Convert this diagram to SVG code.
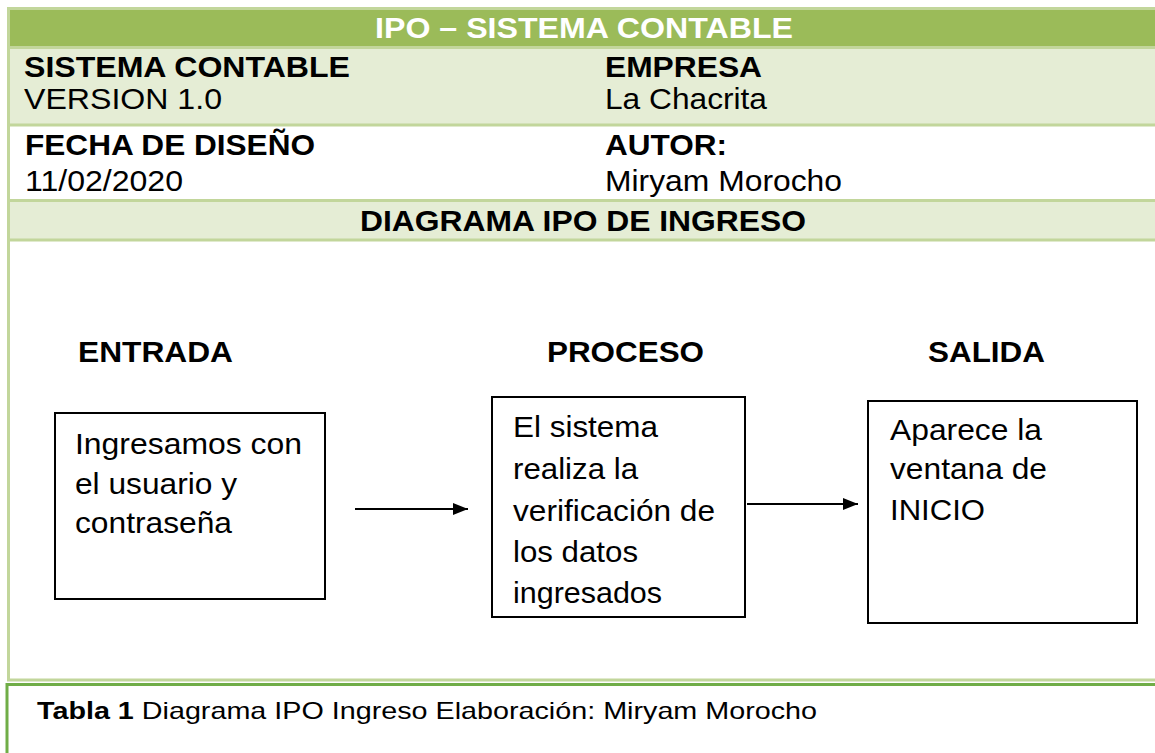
<svg xmlns="http://www.w3.org/2000/svg" width="1155" height="753" viewBox="0 0 1155 753">
<style>
text{font-family:"Liberation Sans",Arial,sans-serif;fill:#000;font-size:30px}
.b{font-weight:bold}
.w{fill:#fff}
.bx{fill:#fff;stroke:#000;stroke-width:2}
.tl{stroke:#C2D69B;stroke-width:3;fill:none}
.cn{stroke:#000;stroke-width:2;fill:none}
</style>
<defs>
<marker id="ah" markerWidth="15" markerHeight="12" refX="15" refY="6" orient="auto" markerUnits="userSpaceOnUse">
<path d="M0,0 L15,6 L0,12 z" fill="#000"/>
</marker>
</defs>
<rect width="1155" height="753" fill="#fff"/>
<g id="table">
<rect x="9" y="9" width="1150" height="38" fill="#9BBB59"/>
<rect x="9" y="48" width="1150" height="77" fill="#E5EDD5"/>
<rect x="9" y="201" width="1150" height="39" fill="#E5EDD5"/>
<path class="tl" d="M7,8.5H1160M7,47.5H1160M7,125H1160M7,200.5H1160M7,240H1160M7,680H1160M8.5,7V681.5"/>
<text x="375" y="38" class="b w" textLength="418" lengthAdjust="spacingAndGlyphs">IPO – SISTEMA CONTABLE</text>
<text x="24" y="77" class="b" textLength="326" lengthAdjust="spacingAndGlyphs">SISTEMA CONTABLE</text>
<text x="24" y="109" textLength="198" lengthAdjust="spacingAndGlyphs">VERSION 1.0</text>
<text x="605" y="77" class="b" textLength="157" lengthAdjust="spacingAndGlyphs">EMPRESA</text>
<text x="605" y="109" textLength="162" lengthAdjust="spacingAndGlyphs">La Chacrita</text>
<text x="25" y="155" class="b" textLength="290" lengthAdjust="spacingAndGlyphs">FECHA DE DISEÑO</text>
<text x="25" y="191" textLength="158" lengthAdjust="spacingAndGlyphs">11/02/2020</text>
<text x="605" y="155" class="b" textLength="122" lengthAdjust="spacingAndGlyphs">AUTOR:</text>
<text x="605" y="191" textLength="237" lengthAdjust="spacingAndGlyphs">Miryam Morocho</text>
<text x="360" y="231" class="b" textLength="446" lengthAdjust="spacingAndGlyphs">DIAGRAMA IPO DE INGRESO</text>
<text x="78" y="362" class="b" textLength="155" lengthAdjust="spacingAndGlyphs">ENTRADA</text>
<text x="547" y="362" class="b" textLength="157" lengthAdjust="spacingAndGlyphs">PROCESO</text>
<text x="928" y="362" class="b" textLength="117" lengthAdjust="spacingAndGlyphs">SALIDA</text>
</g>
<g id="entrada">
<rect class="bx" x="55" y="413" width="270" height="186"/>
<text x="75" y="454" textLength="227" lengthAdjust="spacingAndGlyphs">Ingresamos con</text>
<text x="75" y="494" textLength="162" lengthAdjust="spacingAndGlyphs">el usuario y</text>
<text x="75" y="533" textLength="157" lengthAdjust="spacingAndGlyphs">contraseña</text>
</g>
<g id="proceso">
<rect class="bx" x="492" y="397" width="253" height="220"/>
<text x="513" y="437" textLength="145" lengthAdjust="spacingAndGlyphs">El sistema</text>
<text x="513" y="479" textLength="125" lengthAdjust="spacingAndGlyphs">realiza la</text>
<text x="513" y="521" textLength="202" lengthAdjust="spacingAndGlyphs">verificación de</text>
<text x="513" y="562" textLength="125" lengthAdjust="spacingAndGlyphs">los datos</text>
<text x="513" y="603" textLength="149" lengthAdjust="spacingAndGlyphs">ingresados</text>
</g>
<g id="salida">
<rect class="bx" x="868" y="401" width="269" height="222"/>
<text x="890" y="440" textLength="152" lengthAdjust="spacingAndGlyphs">Aparece la</text>
<text x="890" y="479" textLength="157" lengthAdjust="spacingAndGlyphs">ventana de</text>
<text x="890" y="520" textLength="95" lengthAdjust="spacingAndGlyphs">INICIO</text>
</g>
<g id="connectors">
<path class="cn" d="M355,509H468" marker-end="url(#ah)"/>
<path class="cn" d="M747,504H858" marker-end="url(#ah)"/>
</g>
<g id="caption">
<rect x="7" y="684.5" width="1160" height="80" fill="#fff" stroke="#70AD47" stroke-width="3"/>
<text x="37" y="719" style="font-size:24px" textLength="780" lengthAdjust="spacingAndGlyphs"><tspan class="b">Tabla 1</tspan> Diagrama IPO Ingreso Elaboración: Miryam Morocho</text>
</g>
</svg>
